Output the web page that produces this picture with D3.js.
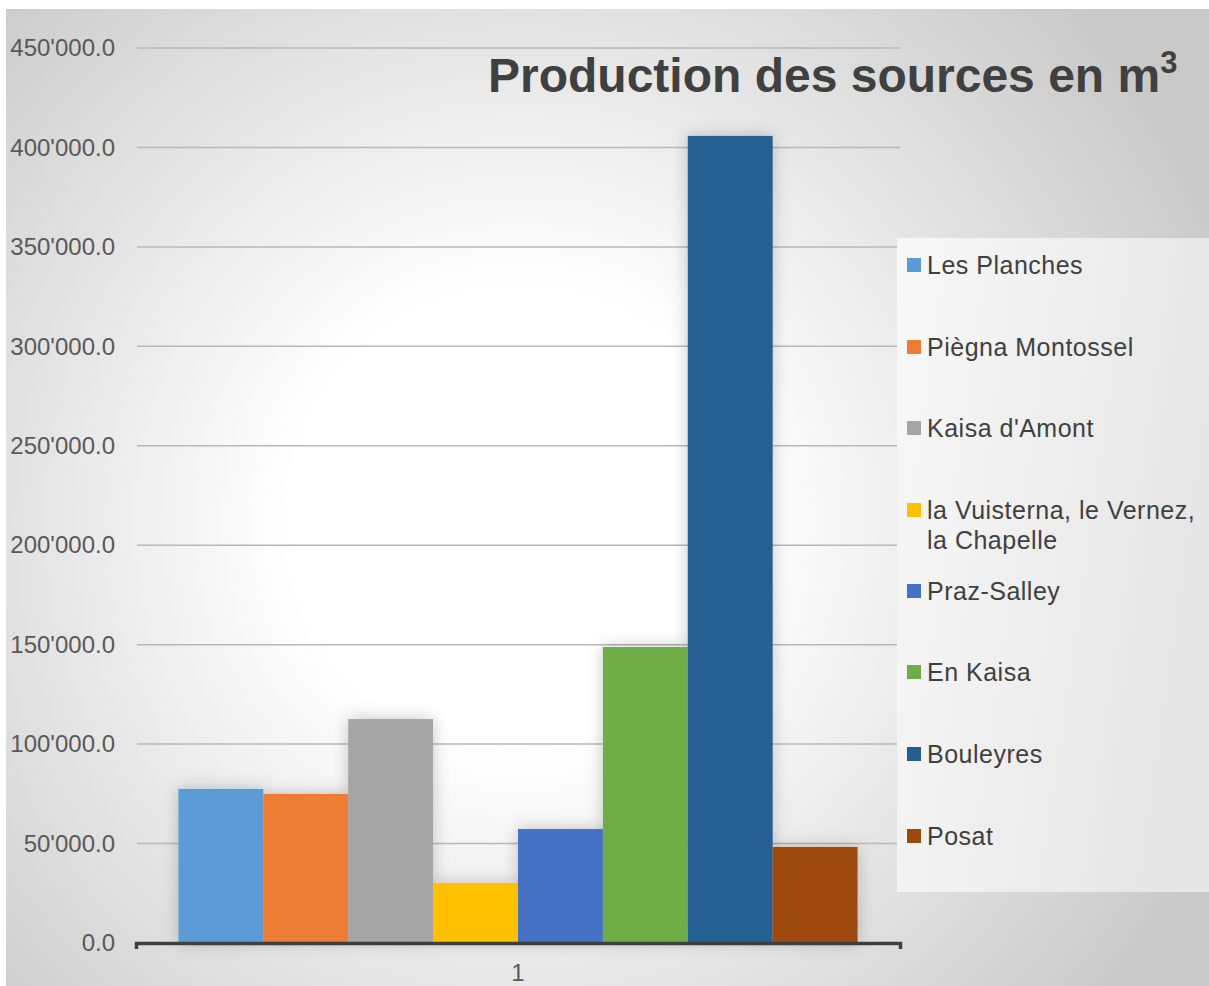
<!DOCTYPE html>
<html>
<head>
<meta charset="utf-8">
<script src="https://cdn.jsdelivr.net/npm/d3@7"></script>
<style>
  body { margin: 0; background: #fff; }
  text { font-family: "Liberation Sans", Arial, sans-serif; }
</style>
</head>
<body>
<div class="chart"></div>
<script>
// data
var categories = ["1"];
var sources = ["Les Planches", "Piègna Montossel", "Kaisa d'Amont",
  "la Vuisterna, le Vernez, la Chapelle", "Praz-Salley", "En Kaisa", "Bouleyres", "Posat"];
var volumes = [77500, 75000, 112600, 30200, 57300, 148800, 405800, 48300];
var colors = ["#5b9bd5", "#ed7d31", "#a5a5a5", "#ffc000", "#4472c4", "#70ad47", "#255e91", "#9e480e"];
var yTicks = [0, 50000, 100000, 150000, 200000, 250000, 300000, 350000, 400000, 450000];
var chartTitle = "Production des sources en m";

var svgWidth = 1209;
var svgHeight = 986;

var svg = d3.select(".chart")
  .append("svg")
  .attr("width", svgWidth)
  .attr("height", svgHeight);

var defs = svg.append("defs");

var bg = defs.append("radialGradient")
  .attr("id", "bg")
  .attr("gradientUnits", "userSpaceOnUse")
  .attr("cx", 520).attr("cy", 520).attr("r", 760);
bg.append("stop").attr("offset", "0").attr("stop-color", "#ffffff");
bg.append("stop").attr("offset", "0.3").attr("stop-color", "#ffffff");
bg.append("stop").attr("offset", "1").attr("stop-color", "#c9c9c9");

var lg = defs.append("linearGradient")
  .attr("id", "legbg")
  .attr("x1", "0").attr("y1", "0").attr("x2", "1").attr("y2", "0.3");
lg.append("stop").attr("offset", "0").attr("stop-color", "#f8f8f8");
lg.append("stop").attr("offset", "1").attr("stop-color", "#e6e6e6");

// soft glow round the bars
var glow = defs.append("filter")
  .attr("id", "glow")
  .attr("x", "-30%").attr("y", "-30%").attr("width", "160%").attr("height", "160%");
glow.append("feGaussianBlur").attr("in", "SourceAlpha").attr("stdDeviation", 8).attr("result", "blur");
glow.append("feFlood").attr("flood-color", "#000").attr("flood-opacity", 0.22);
glow.append("feComposite").attr("in2", "blur").attr("operator", "in").attr("result", "shadow");
var merge = glow.append("feMerge");
merge.append("feMergeNode").attr("in", "shadow");
merge.append("feMergeNode").attr("in", "SourceGraphic");

// chart background
svg.append("rect")
  .attr("x", 6).attr("y", 9)
  .attr("width", svgWidth - 6).attr("height", svgHeight - 9)
  .attr("fill", "url(#bg)");

var plotLeft = 136, plotRight = 900, plotTop = 48, plotBottom = 943;

var y = d3.scaleLinear()
  .domain([0, 450000])
  .range([plotBottom, plotTop]);

var x0 = d3.scaleBand()
  .domain(categories)
  .range([plotLeft, plotRight])
  .padding(0);

var x1 = d3.scaleBand()
  .domain(sources)
  .range([0, x0.bandwidth()])
  .paddingInner(0)
  .paddingOuter(0.5);

var fmt = d3.formatLocale({ decimal: ".", thousands: "'", grouping: [3], currency: ["", ""] }).format(",.1f");

// gridlines
svg.append("g")
  .selectAll("line")
  .data(yTicks.slice(1))
  .enter().append("line")
    .attr("x1", plotLeft + 1)
    .attr("x2", plotRight)
    .attr("y1", function(d) { return y(d); })
    .attr("y2", function(d) { return y(d); })
    .attr("stroke", "#b8b8b8")
    .attr("stroke-width", 1.5);

// y axis labels
var yAxis = svg.append("g")
  .attr("transform", "translate(" + plotLeft + ",0)")
  .call(d3.axisLeft(y).tickValues(yTicks).tickFormat(fmt).tickSize(0).tickPadding(21));
yAxis.select(".domain").remove();
yAxis.selectAll("text")
  .attr("fill", "#595959")
  .style("font-size", "24px")
  .style("font-family", "'Liberation Sans', Arial, sans-serif");

// bars
var bars = svg.append("g").attr("filter", "url(#glow)");
categories.forEach(function(cat) {
  bars.selectAll("rect.b" + cat)
    .data(volumes)
    .enter().append("rect")
      .attr("x", function(d, i) { return x0(cat) + x1(sources[i]); })
      .attr("y", function(d) { return y(d); })
      .attr("width", x1.bandwidth())
      .attr("height", function(d) { return y(0) - y(d); })
      .attr("fill", function(d, i) { return colors[i]; });
});

// x axis
var xAxis = svg.append("g")
  .attr("transform", "translate(0," + plotBottom + ")")
  .call(d3.axisBottom(x0).tickSizeInner(0).tickSizeOuter(6).tickPadding(21));
xAxis.select(".domain")
  .attr("stroke", "#3f3f3f")
  .attr("stroke-width", 3.5);
xAxis.selectAll("text")
  .attr("fill", "#595959")
  .style("font-size", "24px")
  .style("font-family", "'Liberation Sans', Arial, sans-serif");

// title
var title = svg.append("text")
  .attr("x", 488)
  .attr("y", 92)
  .attr("fill", "#404040")
  .style("font-size", "48px")
  .style("font-weight", "bold")
  .text(chartTitle);
title.append("tspan")
  .attr("dy", -19)
  .style("font-size", "31px")
  .text("3");

// legend
var legend = svg.append("g");
legend.append("rect")
  .attr("x", 897).attr("y", 238)
  .attr("width", svgWidth - 897).attr("height", 654)
  .attr("fill", "url(#legbg)");

var legendY = [265, 347, 428, 510, 591, 672, 754, 836];
var legendLines = [["Les Planches"], ["Piègna Montossel"], ["Kaisa d'Amont"],
  ["la Vuisterna, le Vernez,", "la Chapelle"], ["Praz-Salley"], ["En Kaisa"], ["Bouleyres"], ["Posat"]];

var item = legend.selectAll("g.item")
  .data(sources)
  .enter().append("g")
    .attr("class", "item")
    .attr("transform", function(d, i) { return "translate(907," + legendY[i] + ")"; });

item.append("rect")
  .attr("x", 0).attr("y", -7)
  .attr("width", 14).attr("height", 14)
  .attr("fill", function(d, i) { return colors[i]; });

item.each(function(d, i) {
  var t = d3.select(this).append("text")
    .attr("x", 20)
    .attr("y", 9)
    .attr("fill", "#404040")
    .style("font-size", "25px")
    .style("letter-spacing", "0.5px");
  legendLines[i].forEach(function(line, j) {
    t.append("tspan")
      .attr("x", 20)
      .attr("dy", j === 0 ? 0 : 30)
      .text(line);
  });
});
</script>
</body>
</html>
